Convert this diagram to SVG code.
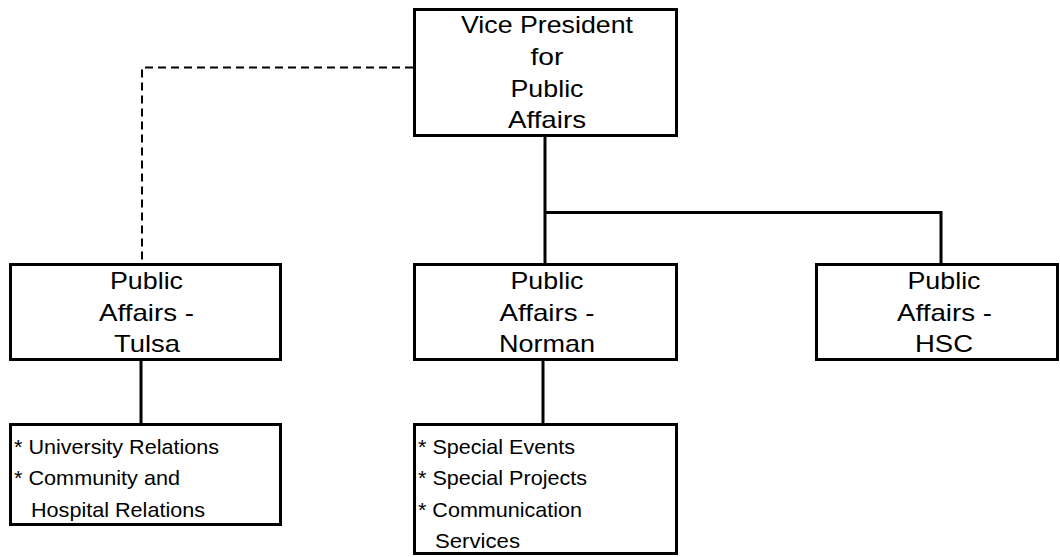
<svg xmlns="http://www.w3.org/2000/svg" width="1060" height="557" viewBox="0 0 1060 557">
<style>
.box{fill:#fff;stroke:#000;stroke-width:3}
.c{fill:none;stroke:#000;stroke-width:3}
.d{fill:none;stroke:#000;stroke-width:2;stroke-dasharray:8 5}
.t{font-family:"Liberation Sans",Arial,sans-serif;font-size:24px;fill:#000;text-anchor:middle}
.s{font-family:"Liberation Sans",Arial,sans-serif;font-size:21px;fill:#000}
</style>
<rect width="1060" height="557" fill="#fff"/>
<g id="connectors">
<path class="d" d="M413,67.5 H142 V263"/>
<path class="c" d="M545,137 V263 M545,212.5 H941 V263"/>
<path class="c" d="M141,361 V423"/>
<path class="c" d="M543,361 V423"/>
</g>
<g id="vp">
<rect class="box" x="414.5" y="9.5" width="262" height="126"/>
<text class="t" x="547" y="33" textLength="172" lengthAdjust="spacingAndGlyphs">Vice President</text>
<text class="t" x="547" y="64.5" textLength="33" lengthAdjust="spacingAndGlyphs">for</text>
<text class="t" x="547" y="96.5" textLength="73" lengthAdjust="spacingAndGlyphs">Public</text>
<text class="t" x="547" y="128" textLength="78" lengthAdjust="spacingAndGlyphs">Affairs</text>
</g>
<g id="tulsa">
<rect class="box" x="10.5" y="264.5" width="270" height="95"/>
<text class="t" x="146.5" y="288.5" textLength="73" lengthAdjust="spacingAndGlyphs">Public</text>
<text class="t" x="146.5" y="320.5" textLength="95" lengthAdjust="spacingAndGlyphs">Affairs -</text>
<text class="t" x="147" y="352" textLength="66" lengthAdjust="spacingAndGlyphs">Tulsa</text>
</g>
<g id="norman">
<rect class="box" x="414.5" y="264.5" width="262" height="95"/>
<text class="t" x="547" y="288.5" textLength="73" lengthAdjust="spacingAndGlyphs">Public</text>
<text class="t" x="547" y="320.5" textLength="95" lengthAdjust="spacingAndGlyphs">Affairs -</text>
<text class="t" x="547" y="352" textLength="96" lengthAdjust="spacingAndGlyphs">Norman</text>
</g>
<g id="hsc">
<rect class="box" x="816.5" y="264.5" width="241" height="95"/>
<text class="t" x="944" y="288.5" textLength="73" lengthAdjust="spacingAndGlyphs">Public</text>
<text class="t" x="944.5" y="320.5" textLength="95" lengthAdjust="spacingAndGlyphs">Affairs -</text>
<text class="t" x="944" y="352" textLength="58" lengthAdjust="spacingAndGlyphs">HSC</text>
</g>
<g id="tulsa-units">
<rect class="box" x="10.5" y="424.5" width="270" height="100"/>
<text class="s" x="14" y="453.5" textLength="205" lengthAdjust="spacingAndGlyphs">* University Relations</text>
<text class="s" x="14" y="485" textLength="166" lengthAdjust="spacingAndGlyphs">* Community and</text>
<text class="s" x="31" y="516.5" textLength="174" lengthAdjust="spacingAndGlyphs">Hospital Relations</text>
</g>
<g id="norman-units">
<rect class="box" x="414.5" y="424.5" width="262" height="129"/>
<text class="s" x="418" y="453.5" textLength="157" lengthAdjust="spacingAndGlyphs">* Special Events</text>
<text class="s" x="418" y="485" textLength="169" lengthAdjust="spacingAndGlyphs">* Special Projects</text>
<text class="s" x="418" y="516.5" textLength="164" lengthAdjust="spacingAndGlyphs">* Communication</text>
<text class="s" x="435" y="548" textLength="85" lengthAdjust="spacingAndGlyphs">Services</text>
</g>
</svg>
